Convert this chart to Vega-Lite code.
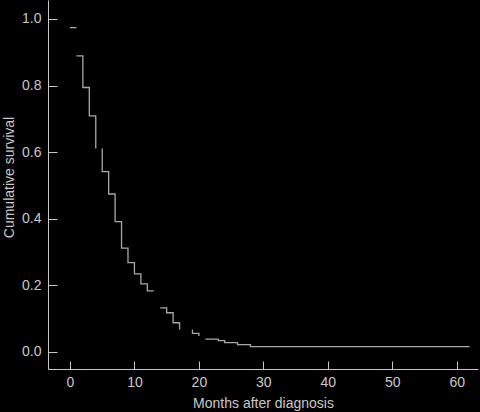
{
  "$schema": "https://vega.github.io/schema/vega-lite/v6.json",
  "width": 430,
  "height": 369,
  "autosize": {"type": "none"},
  "padding": {"left": 48, "top": 0, "right": 2, "bottom": 43},
  "background": "#000000",
  "config": {"view": {"stroke": null}, "font": "Liberation Sans"},
  "data": {
    "values": [
      {"idx": 1, "seg": "a", "month": 0, "survival": 0.974},
      {"idx": 2, "seg": "a", "month": 1, "survival": 0.974},
      {"idx": 3, "seg": "b", "month": 1, "survival": 0.889},
      {"idx": 4, "seg": "b", "month": 2, "survival": 0.794},
      {"idx": 5, "seg": "b", "month": 3, "survival": 0.709},
      {"idx": 6, "seg": "b", "month": 4, "survival": 0.611},
      {"idx": 7, "seg": "c", "month": 5, "survival": 0.611},
      {"idx": 8, "seg": "c", "month": 5, "survival": 0.541},
      {"idx": 9, "seg": "c", "month": 6, "survival": 0.474},
      {"idx": 10, "seg": "c", "month": 7, "survival": 0.391},
      {"idx": 11, "seg": "c", "month": 8, "survival": 0.311},
      {"idx": 12, "seg": "c", "month": 9, "survival": 0.268},
      {"idx": 13, "seg": "c", "month": 10, "survival": 0.234},
      {"idx": 14, "seg": "c", "month": 11, "survival": 0.204},
      {"idx": 15, "seg": "c", "month": 12, "survival": 0.183},
      {"idx": 16, "seg": "c", "month": 13, "survival": 0.183},
      {"idx": 17, "seg": "d", "month": 14, "survival": 0.132},
      {"idx": 18, "seg": "d", "month": 15, "survival": 0.117},
      {"idx": 19, "seg": "d", "month": 16, "survival": 0.087},
      {"idx": 20, "seg": "d", "month": 17, "survival": 0.067},
      {"idx": 21, "seg": "e", "month": 19, "survival": 0.067},
      {"idx": 22, "seg": "e", "month": 19, "survival": 0.055},
      {"idx": 23, "seg": "e", "month": 20, "survival": 0.047},
      {"idx": 24, "seg": "f", "month": 21, "survival": 0.038},
      {"idx": 25, "seg": "f", "month": 23, "survival": 0.033},
      {"idx": 26, "seg": "f", "month": 24, "survival": 0.027},
      {"idx": 27, "seg": "f", "month": 26, "survival": 0.021},
      {"idx": 28, "seg": "f", "month": 28, "survival": 0.015},
      {"idx": 29, "seg": "f", "month": 62, "survival": 0.015}
    ]
  },
  "mark": {"type": "line", "interpolate": "step-after", "color": "#a8a8a8", "strokeWidth": 1.3},
  "encoding": {
    "x": {
      "field": "month",
      "type": "quantitative",
      "scale": {"domain": [-3.41, 63.3], "nice": false, "zero": false},
      "axis": {
        "values": [0, 10, 20, 30, 40, 50, 60],
        "title": "Months after diagnosis",
        "grid": false,
        "domainColor": "#c8c8c8",
        "tickColor": "#c8c8c8",
        "tickSize": -8,
        "labelColor": "#c8c8c8",
        "labelFontSize": 14,
        "labelPadding": 14,
        "labelFlush": false,
        "titleColor": "#c8c8c8",
        "titleFontSize": 14,
        "titleFontWeight": "normal",
        "titleY": 38,
        "titleBaseline": "alphabetic"
      }
    },
    "y": {
      "field": "survival",
      "type": "quantitative",
      "scale": {"domain": [-0.052, 1.057], "nice": false, "zero": false},
      "axis": {
        "values": [0, 0.2, 0.4, 0.6, 0.8, 1.0],
        "format": ".1f",
        "title": "Cumulative survival",
        "grid": false,
        "domainColor": "#c8c8c8",
        "tickColor": "#c8c8c8",
        "tickSize": -9,
        "labelColor": "#c8c8c8",
        "labelFontSize": 14,
        "labelPadding": 16,
        "labelFlush": false,
        "titleColor": "#c8c8c8",
        "titleFontSize": 14,
        "titleFontWeight": "normal",
        "titleX": -34.5,
        "titleY": 177,
        "titleBaseline": "alphabetic",
        "titleAlign": "center"
      }
    },
    "detail": {"field": "seg"},
    "order": {"field": "idx"}
  }
}
